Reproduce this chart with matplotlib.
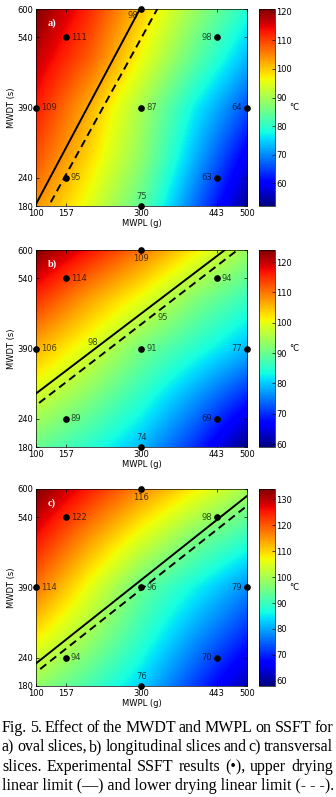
import numpy as np
import matplotlib
matplotlib.use("Agg")
import matplotlib.pyplot as plt

# experimental design (central composite), MWPL in g and MWDT in s
mwpl = [157, 157, 443, 443, 100, 500, 300, 300, 300]
mwdt = [240, 540, 240, 540, 390, 390, 180, 600, 390]

# experimental SSFT (degC) for a) oval, b) longitudinal, c) transversal slices
ssft_a = [95, 111, 63, 98, 109, 64, 75, 98, 87]
ssft_b = [89, 114, 69, 94, 106, 77, 74, 109, 91]
ssft_c = [94, 122, 70, 98, 114, 79, 76, 116, 96]

# where the value label sits relative to the point: r=right, l=left, a=above, b=below
label_side_a = ['r', 'r', 'l', 'l', 'r', 'l', 'a', 'bl', 'r']
label_side_b = ['r', 'r', 'l', 'r', 'r', 'l', 'a', 'b', 'r']
label_side_c = ['r', 'r', 'l', 'l', 'r', 'l', 'a', 'b', 'r']

# response surface on a 5x5 grid
grid_mwpl = [100, 200, 300, 400, 500]
grid_mwdt = [180, 285, 390, 495, 600]
# rows: MWDT 180 -> 600 ; columns: MWPL 100 -> 500
surf_a = [[104, 95, 84, 68, 53],
          [109, 99, 88, 73, 59],
          [113, 102, 90, 77, 66],
          [117, 108, 96, 84, 73],
          [121, 112, 100, 89, 79]]
surf_b = [[90, 85, 79, 70, 59],
          [98, 92, 85, 77, 69],
          [106, 99, 91, 85, 79],
          [115, 107, 100, 92, 86],
          [124, 117, 110, 102, 94]]
surf_c = [[98, 91, 83, 72, 61],
          [108, 99, 89, 79, 70],
          [118, 106, 94, 86, 78],
          [126, 115, 105, 96, 89],
          [134, 125, 116, 108, 100]]

# colour limits
clim_a = (52, 121)
clim_b = (59, 124)
clim_c = (58, 134)
cticks_a = [60, 70, 80, 90, 100, 110, 120]
cticks_b = [60, 70, 80, 90, 100, 110, 120]
cticks_c = [60, 70, 80, 90, 100, 110, 120, 130]

# drying linear limits, (MWPL, MWDT) end points
upper_a = ([100, 297], [184, 600])
lower_a = ([128, 330], [188, 600])
upper_b = ([100, 458], [294, 600])
lower_b = ([106, 482], [274, 600])
upper_c = ([100, 500], [228, 585])
lower_c = ([108, 500], [216, 564])

# limit labels (panel b only): text, MWPL, MWDT
limit_labels_a = []
limit_labels_b = [('98', 208, 403), ('95', 341, 456)]
limit_labels_c = []

xticks = [100, 157, 300, 443, 500]
yticks = [180, 240, 390, 540, 600]

fig = plt.figure(figsize=(3.36, 7.97), dpi=100)

panels = [
    ('a)', ssft_a, label_side_a, surf_a, clim_a, cticks_a, upper_a, lower_a, limit_labels_a, 0.7415),
    ('b)', ssft_b, label_side_b, surf_b, clim_b, cticks_b, upper_b, lower_b, limit_labels_b, 0.4391),
    ('c)', ssft_c, label_side_c, surf_c, clim_c, cticks_c, upper_c, lower_c, limit_labels_c, 0.1393),
]

# half cell sizes so that the grid nodes sit on the axis limits
hx = (grid_mwpl[1] - grid_mwpl[0]) / 2
hy = (grid_mwdt[1] - grid_mwdt[0]) / 2

for letter, z, sides, surf, clim, cticks, upper, lower, lims, bottom in panels:
    ax = fig.add_axes([0.107, bottom, 0.628, 0.2472])
    cax = fig.add_axes([0.771, bottom, 0.047, 0.2472])

    im = ax.imshow(np.array(surf, float), origin='lower', aspect='auto', cmap='jet',
                   extent=[grid_mwpl[0] - hx, grid_mwpl[-1] + hx,
                           grid_mwdt[0] - hy, grid_mwdt[-1] + hy],
                   vmin=clim[0], vmax=clim[1], interpolation='bilinear',
                   interpolation_stage='data')

    ax.plot(upper[0], upper[1], color='black', lw=1.4)
    ax.plot(lower[0], lower[1], color='black', lw=1.4, dashes=(4, 2.5))

    ax.plot(mwpl, mwdt, 'o', color='black', ms=3.8, clip_on=False, zorder=5)
    for px, py, v, s in zip(mwpl, mwdt, z, sides):
        kw = dict(fontsize=6, color='black', alpha=0.7, zorder=6)
        if s == 'r':
            ax.text(px + 9, py, str(v), ha='left', va='center', **kw)
        elif s == 'l':
            ax.text(px - 9, py, str(v), ha='right', va='center', **kw)
        elif s == 'a':
            ax.text(px, py + 11, str(v), ha='center', va='bottom', **kw)
        elif s == 'b':
            ax.text(px, py - 9, str(v), ha='center', va='top', **kw)
        else:
            ax.text(px - 6, py - 4, str(v), ha='right', va='top', **kw)
    for t, lx, ly in lims:
        ax.text(lx, ly, t, fontsize=6, color='black', alpha=0.7, ha='center', va='center')

    ax.text(0.055, 0.95, letter, transform=ax.transAxes, color='white', fontsize=7.5,
            fontweight='bold', family='Liberation Serif', ha='left', va='top')

    ax.set_xlim(100, 500)
    ax.set_ylim(180, 600)
    ax.set_xticks(xticks)
    ax.set_yticks(yticks)
    ax.tick_params(direction='in', length=2, width=0.5, labelsize=6, pad=2,
                   top=True, right=True)
    for sp in ax.spines.values():
        sp.set_linewidth(0.5)
    ax.set_xlabel('MWPL (g)', fontsize=6, labelpad=1)
    ax.set_ylabel('MWDT (s)', fontsize=6, labelpad=1)

    cb = fig.colorbar(im, cax=cax, ticks=cticks)
    cb.outline.set_linewidth(0.5)
    cax.tick_params(direction='in', length=2, width=0.5, labelsize=6, pad=1)
    cax.text(2.2, 0.5, '°C', transform=cax.transAxes, fontsize=6, ha='center', va='center')

# caption, justified like the paper
caption_lines = [
    "Fig. 5. Effect of the MWDT and MWPL on SSFT for",
    "a) oval slices, b) longitudinal slices and c) transversal",
    "slices.  Experimental SSFT results (\u2022), upper drying",
    "linear limit (\u2014) and lower drying linear limit (- - -).",
]
cap_y = [728, 747, 767, 786]
x0, x1 = 2 / 336, 333 / 336
fig.canvas.draw()
renderer = fig.canvas.get_renderer()
for i, (line, yy) in enumerate(zip(caption_lines, cap_y)):
    fy = 1 - yy / 797
    words = line.split()
    if i == len(caption_lines) - 1:
        fig.text(x0, fy, line, fontsize=11.5, family='Liberation Serif', va='center', ha='left')
        continue
    texts = [fig.text(0, fy, w, fontsize=11.5, family='Liberation Serif', va='center', ha='left')
             for w in words]
    widths = [t.get_window_extent(renderer).width / fig.bbox.width for t in texts]
    gap = (x1 - x0 - sum(widths)) / (len(words) - 1)
    pos = x0
    for t, w in zip(texts, widths):
        t.set_x(pos)
        pos += w + gap

fig.savefig('out.png', dpi=100)
